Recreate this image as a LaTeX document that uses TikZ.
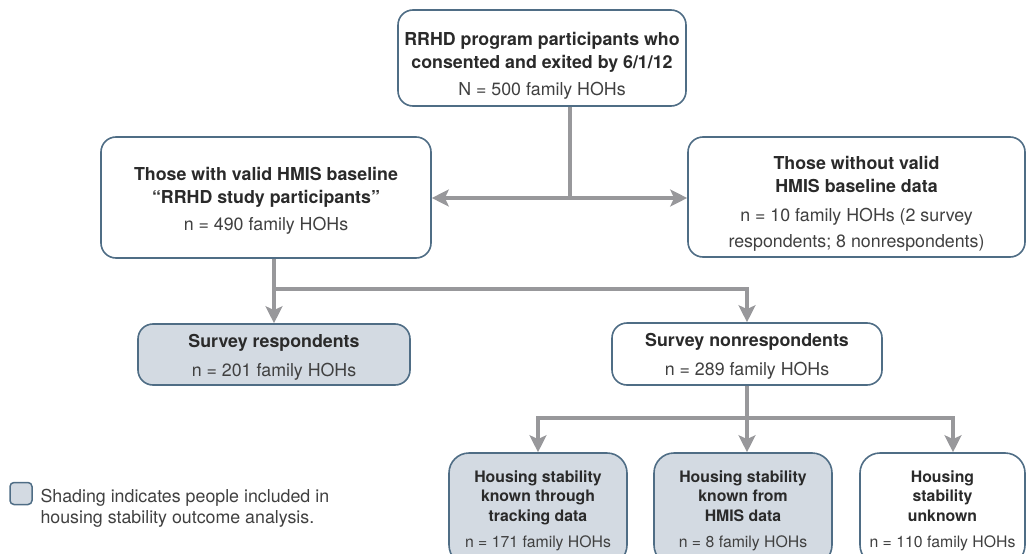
\documentclass[tikz,border=0pt]{standalone}
\usepackage{fontspec}
\setmainfont{TeX Gyre Heros}
\usepackage{tikz}
\usetikzlibrary{arrows.meta}
\definecolor{boxline}{HTML}{4F6D85}
\definecolor{shade}{HTML}{D3DAE2}
\definecolor{linkgray}{HTML}{98989B}
\definecolor{textdark}{HTML}{2A2A2A}
\definecolor{textsoft}{HTML}{404040}
\newcommand{\hohs}[1]{#1 family HOHs}
\newcommand{\topgap}[1]{\rule{0pt}{#1}}
\tikzstyle{box} = [draw=boxline, line width=1.6pt, rounded corners=15pt, fill=white, align=center, text=textdark, inner sep=0pt, font=\fontsize{17.8}{23}\selectfont]
\tikzstyle{shadedbox} = [box, fill=shade]
\tikzstyle{smallbox} = [box, rounded corners=20pt, minimum height=112pt, font=\fontsize{15.8}{19.5}\selectfont]
\tikzstyle{fork} = [draw=linkgray, line width=4pt]
\tikzstyle{link} = [fork, -{Stealth[length=17pt,width=17pt,inset=4pt]}]
\tikzstyle{linkboth} = [fork, {Stealth[length=17pt,width=17pt,inset=4pt]}-{Stealth[length=17pt,width=17pt,inset=4pt]}]

\begin{document}
\begin{tikzpicture}[x=1pt,y=-1pt]
    \clip (0,0) rectangle (1026,554);
    % boxes
    \node[box, minimum width=288pt, minimum height=96pt] (consented) at (542,58)
        {\topgap{28pt}\textbf{RRHD program participants who}\\\textbf{consented and exited by 6/1/12}\\[4pt]
         {\color{textsoft}N = \hohs{500}}};
    \node[box, minimum width=330pt, minimum height=121pt] (valid) at (266,197.5)
        {\topgap{19pt}\textbf{Those with valid HMIS baseline}\\\textbf{“RRHD study participants”}\\[4pt]
         {\color{textsoft}n = \hohs{490}}};
    \node[box, minimum width=337pt, minimum height=120pt] (novalid) at (856.5,197)
        {\topgap{26pt}\textbf{Those without valid}\\\textbf{HMIS baseline data}\\[6pt]
         {\color{textsoft}n = \hohs{10} (2 survey}\\[3pt]{\color{textsoft}respondents; 8 nonrespondents)}};
    \node[box, fill=shade, minimum width=272pt, minimum height=61pt] (resp) at (274,354.5)
        {\topgap{18pt}\textbf{Survey respondents}\\[6pt]{\color{textsoft}n = \hohs{201}}};
    \node[box, minimum width=270pt, minimum height=62pt] (nonresp) at (747,354)
        {\topgap{18pt}\textbf{Survey nonrespondents}\\[6pt]{\color{textsoft}n = \hohs{289}}};
    \node[smallbox, fill=shade, minimum width=178pt] (tracking) at (538,509)
        {\topgap{15pt}\textbf{Housing stability}\\\textbf{known through}\\\textbf{tracking data}\\[7pt]
         {\color{textsoft}n = \hohs{171}}};
    \node[smallbox, fill=shade, minimum width=178pt] (hmisdata) at (743,509)
        {\topgap{15pt}\textbf{Housing stability}\\\textbf{known from}\\\textbf{HMIS data}\\[7pt]
         {\color{textsoft}n = \hohs{8}}};
    \node[smallbox, minimum width=165pt] (unknown) at (942.5,509)
        {\topgap{15pt}\textbf{Housing}\\\textbf{stability}\\\textbf{unknown}\\[7pt]
         {\color{textsoft}n = \hohs{110}}};
    % key
    \node[shadedbox, rounded corners=4pt, line width=1.5pt, minimum size=22pt] (key) at (21,493.5) {};
    \node[anchor=west, align=left, text=textsoft, font=\fontsize{17.8}{21}\selectfont] (keytext) at (37,508.5)
        {Shading indicates people included in\\housing stability outcome analysis.};
    % connectors
    \coordinate (split) at (570,198);
    \coordinate (branch) at (274,289);
    \coordinate (fan) at (747,418);
    \coordinate (fanend) at (953,418);
    \draw[fork] (consented.south -| split) -- (split);
    \draw[linkboth] (valid.east |- split) -- (novalid.west |- split);
    \draw[fork] (valid.south -| resp) -- (branch);
    \draw[linkboth] (resp.north) |- (nonresp.north |- branch) -- (nonresp.north);
    \draw[link] (nonresp.south) -- (hmisdata.north -| fan);
    \draw[linkboth] (tracking.north) |- (fanend) -- (fanend |- unknown.north);
\end{tikzpicture}
\end{document}
